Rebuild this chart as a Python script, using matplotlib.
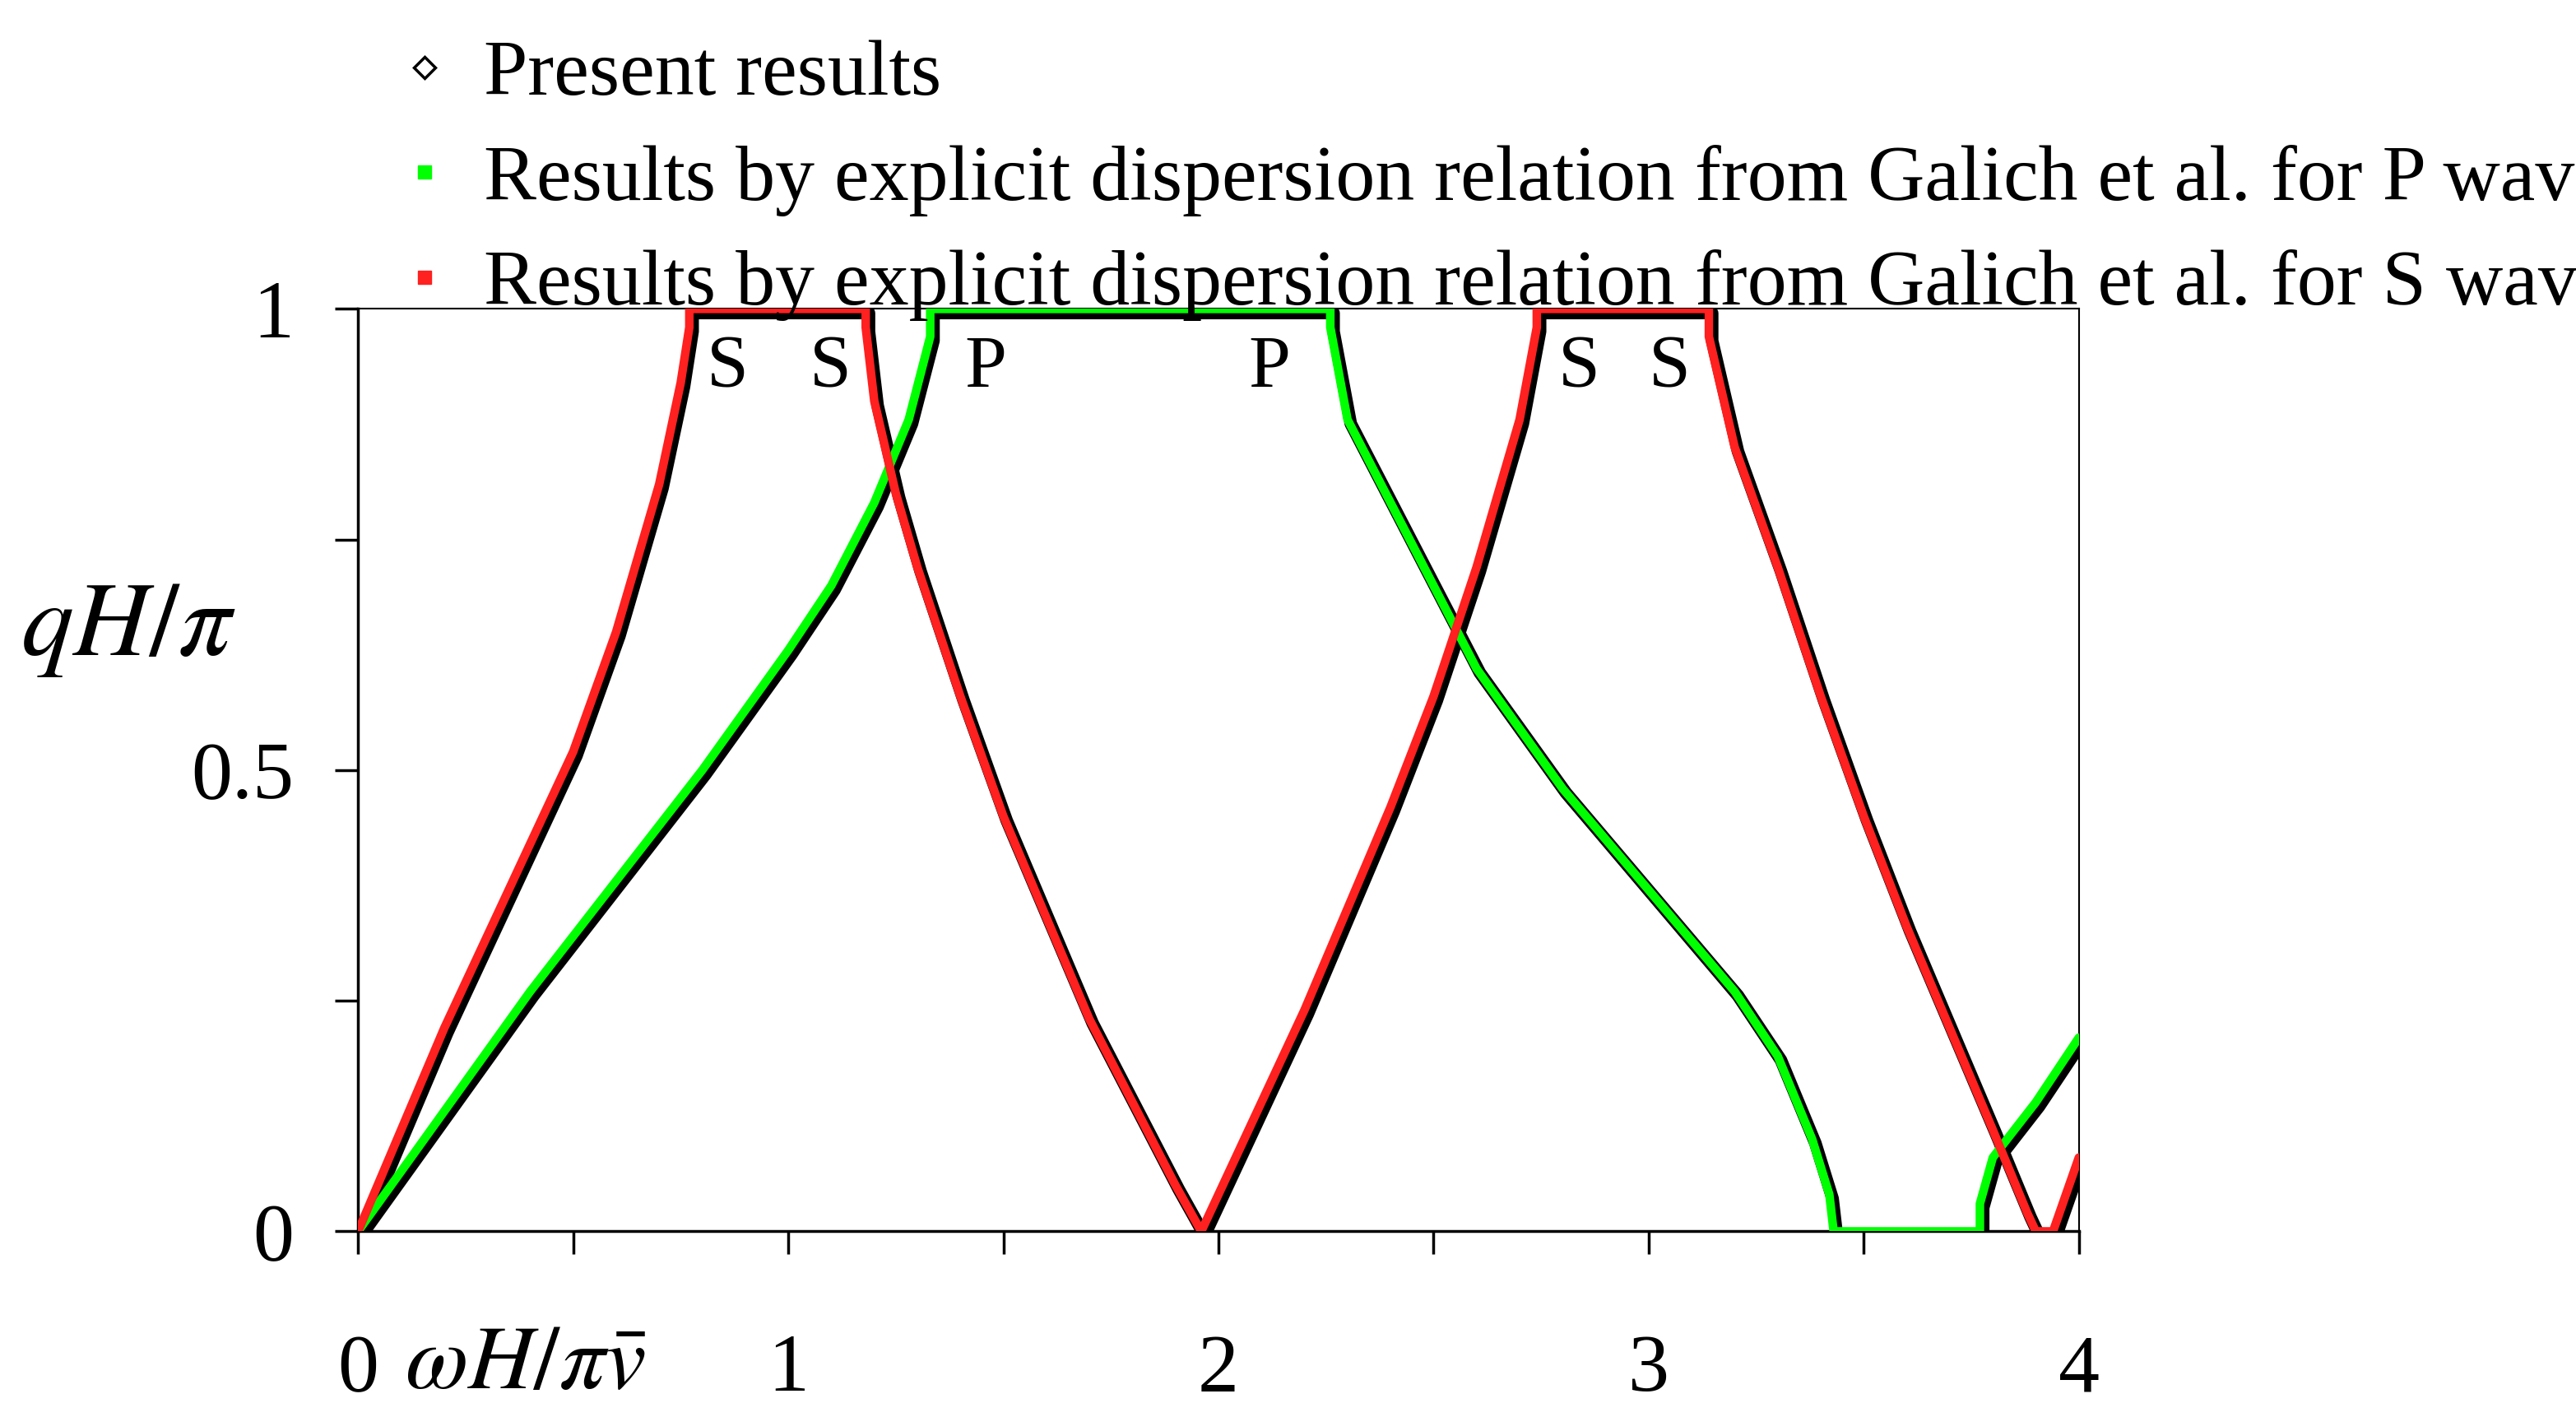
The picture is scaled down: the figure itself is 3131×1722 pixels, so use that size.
import matplotlib
matplotlib.use("Agg")
import matplotlib.pyplot as plt
import matplotlib.transforms as mtrans
from matplotlib.lines import Line2D

plt.rcParams['font.family'] = ['Liberation Serif', 'DejaVu Serif']
plt.rcParams['mathtext.fontset'] = 'stix'

# S-wave branches (omega H / pi v, qH/pi)
s_x = [0, 0.1, 0.2, 0.3, 0.4, 0.5, 0.6, 0.7, 0.75, 0.77, 0.77, 1.18, 1.18, 1.2, 1.25, 1.3, 1.4, 1.5, 1.6, 1.7, 1.8, 1.9, 1.96,
       2.0, 2.1, 2.2, 2.3, 2.4, 2.5, 2.6, 2.7, 2.74, 2.74, 3.14, 3.14, 3.2, 3.3, 3.4, 3.5, 3.6, 3.7, 3.8, 3.88, 3.9, 3.94, 4.0]
s_y = [0, 0.11, 0.22, 0.32, 0.42, 0.52, 0.65, 0.81, 0.92, 0.98, 1.0, 1.0, 0.98, 0.9, 0.8, 0.72, 0.58, 0.45, 0.34, 0.23, 0.14, 0.05, 0.0,
       0.04, 0.14, 0.24, 0.35, 0.46, 0.58, 0.72, 0.88, 0.98, 1.0, 1.0, 0.97, 0.85, 0.72, 0.58, 0.45, 0.33, 0.22, 0.11, 0.02, 0.0, 0.0, 0.08]
# P-wave branches
p_x = [0, 0.2, 0.4, 0.6, 0.8, 1.0, 1.1, 1.2, 1.28, 1.33, 1.33, 2.26, 2.26, 2.3, 2.4, 2.5, 2.6, 2.8, 3.0, 3.2, 3.3, 3.38, 3.42, 3.43,
       3.77, 3.77, 3.8, 3.9, 4.0]
p_y = [0, 0.13, 0.26, 0.38, 0.5, 0.63, 0.7, 0.79, 0.88, 0.97, 1.0, 1.0, 0.98, 0.88, 0.79, 0.7, 0.61, 0.48, 0.37, 0.26, 0.19, 0.1, 0.04, 0.0,
       0.0, 0.03, 0.08, 0.14, 0.21]

labels_txt = ['S', 'S', 'P', 'P', 'S', 'S']
labels_x = [0.81, 1.05, 1.41, 2.07, 2.79, 3.0]

fig = plt.figure(figsize=(31.31, 17.22), dpi=100)
ax = fig.add_axes([0.139, 0.131, 0.668, 0.651])

off = mtrans.offset_copy(ax.transData, fig=fig, x=4, y=-5, units='dots')
for xs, ys in [(p_x, p_y), (s_x, s_y)]:
    ax.plot(xs, ys, color='black', lw=11, transform=off, solid_capstyle='round', zorder=2)
for xs, ys, c in [(p_x, p_y, '#00ff00'), (s_x, s_y, '#ff2020')]:
    ax.plot(xs, ys, color=c, lw=7.5, solid_capstyle='round', zorder=3)

for t, x in zip(labels_txt, labels_x):
    ax.text(x, 0.935, t, fontsize=66, ha='left', va='center')

ax.set_xlim(0, 4)
ax.set_ylim(0, 1)
ax.set_xticks([0, 0.5, 1, 1.5, 2, 2.5, 3, 3.5, 4])
ax.set_xticklabels(['0', '', '1', '', '2', '', '3', '', '4'])
ax.set_yticks([0, 0.25, 0.5, 0.75, 1])
ax.set_yticklabels(['0', '', '0.5', '', '1'])
ax.tick_params(axis='x', direction='out', length=20, width=2.5, pad=70, labelsize=72)
ax.tick_params(axis='y', direction='out', length=20, width=2.5, pad=36, labelsize=72)
for sp in ax.spines.values():
    sp.set_linewidth(1.5)
ax.spines['bottom'].set_linewidth(2.5)
ax.spines['left'].set_linewidth(2.5)

fig.text(0.008, 0.555, r'$qH/\pi$', fontsize=92, ha='left', va='center')
fig.text(0.157, 0.036, r'$\omega H/\pi\bar{v}$', fontsize=80, ha='left', va='center')

handles = [Line2D([], [], ls='none', marker='D', mfc='white', mec='black', ms=13, mew=2.5),
           Line2D([], [], ls='none', marker='s', color='#00ff00', ms=11),
           Line2D([], [], ls='none', marker='s', color='#ff2020', ms=11)]
leg = fig.legend(handles, ['Present results',
                           'Results by explicit dispersion relation from Galich et al. for P wave',
                           'Results by explicit dispersion relation from Galich et al. for S wave'],
                 loc='upper left', bbox_to_anchor=(0.128, 1.022), frameon=False, fontsize=69,
                 handletextpad=0.45, labelspacing=0.42, handlelength=0.6)

fig.savefig('out.png', dpi=100)
